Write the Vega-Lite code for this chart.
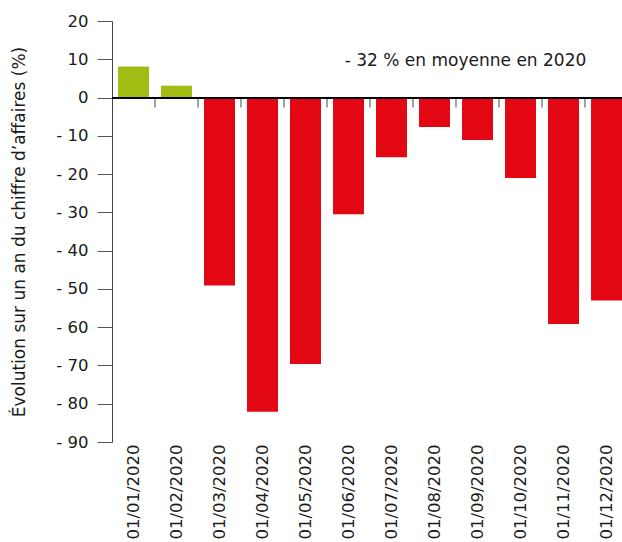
{
  "$schema": "https://vega.github.io/schema/vega-lite/v6.json",
  "width": 510,
  "height": 421,
  "autosize": {"type": "none"},
  "padding": {"left": 112, "top": 21, "right": 0, "bottom": 100},
  "background": "white",
  "config": {
    "view": {"stroke": null},
    "font": "DejaVu Sans",
    "axisY": {
      "labelOverlap": false,
      "labelFontSize": 16.5,
      "labelColor": "#1a1a1a",
      "labelPadding": 9,
      "ticks": true,
      "tickSize": 15,
      "tickWidth": 1,
      "tickColor": "#555555",
      "domainColor": "#444444",
      "grid": false,
      "titleFontSize": 17,
      "titleFontWeight": "normal",
      "titleColor": "#1a1a1a",
      "titlePadding": 27
    },
    "axisX": {
      "labelAngle": -90,
      "labelFontSize": 16.5,
      "labelColor": "#1a1a1a",
      "labelPadding": 2,
      "ticks": false,
      "domain": false,
      "grid": false
    }
  },
  "data": {
    "values": [
      {"date": "01/01/2020", "valeur": 8.1},
      {"date": "01/02/2020", "valeur": 3.1},
      {"date": "01/03/2020", "valeur": -49.1},
      {"date": "01/04/2020", "valeur": -82.1},
      {"date": "01/05/2020", "valeur": -69.6},
      {"date": "01/06/2020", "valeur": -30.5},
      {"date": "01/07/2020", "valeur": -15.6},
      {"date": "01/08/2020", "valeur": -7.7},
      {"date": "01/09/2020", "valeur": -11.1},
      {"date": "01/10/2020", "valeur": -21.0},
      {"date": "01/11/2020", "valeur": -59.2},
      {"date": "01/12/2020", "valeur": -53.0}
    ]
  },
  "layer": [
    {
      "mark": {"type": "bar"},
      "encoding": {
        "x": {
          "field": "date",
          "type": "nominal",
          "sort": null,
          "scale": {"paddingInner": 0.28, "paddingOuter": 0.07, "align": 1},
          "axis": {"title": null}
        },
        "y": {
          "field": "valeur",
          "type": "quantitative",
          "scale": {"domain": [-90, 20], "nice": false},
          "axis": {
            "title": "Évolution sur un an du chiffre d’affaires (%)",
            "values": [-90, -80, -70, -60, -50, -40, -30, -20, -10, 0, 10, 20],
            "labelOverlap": false,
            "ticks": true,
            "tickSize": 15,
            "labelExpr": "datum.value < 0 ? '- ' + abs(datum.value) : '' + datum.value"
          }
        },
        "color": {
          "condition": {"test": "datum.valeur > 0", "value": "#A2BC13"},
          "value": "#E30613"
        }
      }
    },
    {
      "mark": {"type": "rule", "color": "#444444", "strokeWidth": 1},
      "encoding": {
        "x": {"field": "date", "type": "nominal", "sort": null, "bandPosition": 1.194, "axis": {"title": null}},
        "y": {
          "datum": 0,
          "type": "quantitative",
          "axis": {
            "title": "Évolution sur un an du chiffre d’affaires (%)",
            "values": [-90, -80, -70, -60, -50, -40, -30, -20, -10, 0, 10, 20],
            "labelOverlap": false,
            "ticks": true,
            "tickSize": 15,
            "labelExpr": "datum.value < 0 ? '- ' + abs(datum.value) : '' + datum.value"
          }
        },
        "y2": {"datum": -2.6}
      }
    },
    {
      "mark": {"type": "rule", "color": "#000000", "strokeWidth": 1.2},
      "encoding": {
        "y": {
          "datum": 0,
          "type": "quantitative",
          "axis": {
            "title": "Évolution sur un an du chiffre d’affaires (%)",
            "values": [-90, -80, -70, -60, -50, -40, -30, -20, -10, 0, 10, 20],
            "labelOverlap": false,
            "ticks": true,
            "tickSize": 15,
            "labelExpr": "datum.value < 0 ? '- ' + abs(datum.value) : '' + datum.value"
          }
        }
      }
    },
    {
      "data": {"values": [{"texte": "- 32 % en moyenne en 2020"}]},
      "mark": {"type": "text", "fontSize": 17, "color": "#1a1a1a", "align": "center", "baseline": "middle", "dx": -12},
      "encoding": {
        "x": {"datum": "01/09/2020", "axis": {"title": null}},
        "y": {
          "datum": 9.5,
          "type": "quantitative",
          "axis": {
            "title": "Évolution sur un an du chiffre d’affaires (%)",
            "values": [-90, -80, -70, -60, -50, -40, -30, -20, -10, 0, 10, 20],
            "labelOverlap": false,
            "ticks": true,
            "tickSize": 15,
            "labelExpr": "datum.value < 0 ? '- ' + abs(datum.value) : '' + datum.value"
          }
        },
        "text": {"field": "texte"}
      }
    }
  ]
}
